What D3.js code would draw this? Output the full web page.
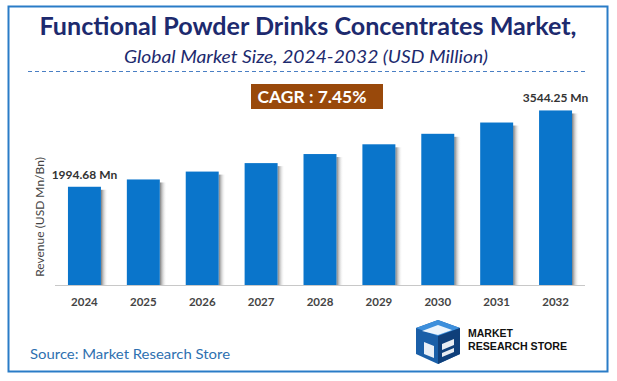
<!DOCTYPE html>
<html><head><meta charset="utf-8">
<script src="https://cdn.jsdelivr.net/npm/d3@7"></script>
<style>html,body{margin:0;padding:0;background:#fff;}svg{display:block;}</style>
</head><body>
<script>
const years = ["2024","2025","2026","2027","2028","2029","2030","2031","2032"];
const revenue = [1994.68, 2143, 2303, 2475, 2659, 2857, 3070, 3299, 3544.25];
const valueLabels = ["1994.68 Mn", "", "", "", "", "", "", "", "3544.25 Mn"];
const titleText = "Functional Powder Drinks Concentrates Market,";
const subtitleText = "Global Market Size, 2024-2032 (USD Million)";
const cagrText = "CAGR : 7.45%";
const yAxisLabel = "Revenue (USD Mn/Bn)";
const sourceText = "Source: Market Research Store";

const W = 617, H = 381;
const svg = d3.select("body").append("svg").attr("width", W).attr("height", H);
const defs = svg.append("defs");
const g = defs.append("linearGradient").attr("id","shadow").attr("x1","0").attr("x2","1");
g.append("stop").attr("offset","0").attr("stop-color","#7a7a7a");
g.append("stop").attr("offset","1").attr("stop-color","#ffffff").attr("stop-opacity","0");

svg.append("rect").attr("width",W).attr("height",H).attr("fill","#fff");
// border
svg.append("rect").attr("x",8.5).attr("y",6.5).attr("width",599).attr("height",365)
  .attr("fill","none").attr("stroke","#2a7cc7").attr("stroke-width",2);

const font = "Lato, 'Open Sans', sans-serif";
svg.append("text").attr("x",308).attr("y",35).attr("text-anchor","middle")
  .attr("font-family",font).attr("font-weight","bold").attr("font-size",24.5)
  .attr("fill","#1d2a6e").attr("textLength",537).attr("lengthAdjust","spacingAndGlyphs")
  .text(titleText);
svg.append("text").attr("x",306).attr("y",63).attr("text-anchor","middle")
  .attr("font-family",font).attr("font-style","italic").attr("font-size",18)
  .attr("fill","#1d2a6e").attr("textLength",364).attr("lengthAdjust","spacingAndGlyphs")
  .text(subtitleText);
svg.append("line").attr("x1",28).attr("x2",588).attr("y1",71.5).attr("y2",71.5)
  .attr("stroke","#4a7fc4").attr("stroke-width",1).attr("stroke-dasharray","4,3");

// CAGR
svg.append("rect").attr("x",251).attr("y",84).attr("width",132).attr("height",25).attr("fill","#99490b");
svg.append("text").attr("x",312).attr("y",103).attr("text-anchor","middle")
  .attr("font-family",font).attr("font-weight","bold").attr("font-size",17.5)
  .attr("fill","#fff").attr("textLength",109).attr("lengthAdjust","spacingAndGlyphs").text(cagrText);

const x = d3.scaleBand().domain(years).range([55,585]).paddingInner(0.44).paddingOuter(0.22);
const y = d3.scaleLinear().domain([0,4000]).range([285,88]);

const data = years.map((yr,i)=>({yr, v:revenue[i], label:valueLabels[i]}));

// shadows
svg.append("g").selectAll("rect").data(data).join("rect")
  .attr("x",d=>x(d.yr)+x.bandwidth()).attr("y",d=>y(d.v)+3)
  .attr("width",7).attr("height",d=>y(0)-y(d.v)-3).attr("fill","url(#shadow)");
// bars
svg.append("g").selectAll("rect").data(data).join("rect")
  .attr("x",d=>x(d.yr)).attr("y",d=>y(d.v))
  .attr("width",x.bandwidth()).attr("height",d=>y(0)-y(d.v)).attr("fill","#0a75cb");

// baseline
svg.append("line").attr("x1",55).attr("x2",585).attr("y1",285.5).attr("y2",285.5)
  .attr("stroke","#c8c8c8").attr("stroke-width",1);

// x axis labels
const xa = svg.append("g").attr("transform","translate(0,285)")
  .call(d3.axisBottom(x).tickSize(0).tickPadding(13));
xa.select(".domain").remove();
xa.selectAll("text").attr("font-family",font).attr("font-weight","bold")
  .attr("font-size",11.5).attr("fill","#444");

// value labels
svg.append("g").selectAll("text").data(data.filter(d=>d.label)).join("text")
  .attr("x",d=>x(d.yr)+x.bandwidth()/2).attr("y",d=>y(d.v)-8)
  .attr("text-anchor","middle").attr("font-family",font).attr("font-weight","bold")
  .attr("font-size",12).attr("fill","#333").text(d=>d.label);

// y axis label
svg.append("text").attr("transform","translate(44,217) rotate(-90)")
  .attr("text-anchor","middle").attr("font-family",font).attr("font-size",12)
  .attr("fill","#444").text(yAxisLabel);

// source
svg.append("text").attr("x",30).attr("y",359).attr("font-family",font).attr("font-size",14)
  .attr("fill","#2e70b0").attr("textLength",200).attr("lengthAdjust","spacingAndGlyphs").text(sourceText);

// logo
const logo = svg.append("g").attr("transform","translate(414,318)");
logo.append("path").attr("d","M2,10 L24,2 L46,10 L46,36 L24,46 L2,36 Z").attr("fill","#1a5fa8");
logo.append("path").attr("d","M2,10 L24,2 L46,10 L24,18 Z").attr("fill","#3d8fdc");
logo.append("path").attr("d","M24,18 L46,10 L46,36 L24,46 Z").attr("fill","#0f3f7a");
logo.append("path").attr("d","M8,13 L24,7 L38,12 L24,17 Z M10,24 L20,28 L20,40 L10,36 Z M28,26 L40,21 L40,27 L28,32 Z M28,35 L40,30 L40,34 L28,39 Z")
  .attr("fill","#fff").attr("opacity",0.9);
logo.append("text").attr("x",54).attr("y",19).attr("font-family","'Liberation Sans', Arial, sans-serif")
  .attr("font-weight","bold").attr("font-size",10.5).attr("fill","#111").text("MARKET");
logo.append("text").attr("x",54).attr("y",32).attr("font-family","'Liberation Sans', Arial, sans-serif")
  .attr("font-weight","bold").attr("font-size",10.5).attr("fill","#111")
  .attr("textLength",99).attr("lengthAdjust","spacingAndGlyphs").text("RESEARCH STORE");
</script>
</body></html>
